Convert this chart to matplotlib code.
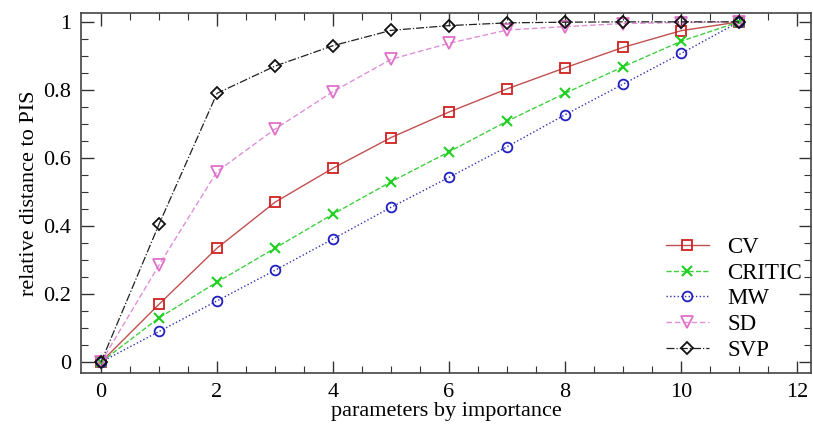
import matplotlib
matplotlib.use("Agg")
import matplotlib.pyplot as plt
from matplotlib.ticker import MultipleLocator

x = list(range(12))
cv =     [0, 0.170, 0.335, 0.470, 0.570, 0.660, 0.735, 0.803, 0.865, 0.925, 0.974, 1.0]
critic = [0, 0.130, 0.235, 0.335, 0.435, 0.530, 0.618, 0.708, 0.790, 0.868, 0.943, 1.0]
mw =     [0, 0.090, 0.180, 0.270, 0.362, 0.455, 0.543, 0.633, 0.727, 0.817, 0.907, 1.0]
sd =     [0, 0.285, 0.560, 0.685, 0.795, 0.890, 0.937, 0.976, 0.986, 0.995, 0.998, 1.0]
svp =    [0, 0.405, 0.790, 0.870, 0.930, 0.975, 0.989, 0.997, 0.999, 1.0, 1.0, 1.0]

plt.rcParams['font.family'] = ['Liberation Serif', 'DejaVu Serif']
fig = plt.figure(figsize=(8.13, 4.32), dpi=100)
ax = fig.add_axes([81/813, 1-373/432, (811-81)/813, (373-13)/432])

ms = 7
ax.plot(x, cv, '-', color='#c05050', lw=1.0, marker='s', ms=ms, mfc='none', mec='#d02020', mew=1.3, label='CV')
ax.plot(x, critic, '--', color='#40d040', lw=1.0, marker='x', ms=ms, mec='#20d020', mew=1.5, label='CRITIC')
ax.plot(x, mw, ':', color='#3030b0', lw=1.0, marker='o', ms=ms, mfc='none', mec='#2020c0', mew=1.3, label='MW')
ax.plot(x, sd, '--', color='#e090d8', lw=1.0, marker='v', ms=ms+1, mfc='none', mec='#e070c8', mew=1.3, label='SD', dashes=(4, 2))
ax.plot(x, svp, '-.', color='#202020', lw=0.9, marker='D', ms=ms-1, mfc='none', mec='#101010', mew=1.3, label='SVP')

ax.set_xlim(-0.345, 12.24)
ax.set_ylim(-0.032, 1.026)
ax.xaxis.set_major_locator(MultipleLocator(2))
ax.xaxis.set_minor_locator(MultipleLocator(0.5))
ax.yaxis.set_major_locator(MultipleLocator(0.2))
ax.yaxis.set_minor_locator(MultipleLocator(0.05))
ax.set_yticks([0, 0.2, 0.4, 0.6, 0.8, 1.0])
ax.set_yticklabels(['0', '0.2', '0.4', '0.6', '0.8', '1'])
ax.tick_params(which='both', direction='in', top=True, right=True, labelsize=16, colors='#333333', labelcolor='black')
ax.tick_params(which='major', length=9, width=1.0, pad=7)
ax.tick_params(which='minor', length=5, width=0.8)
for s in ax.spines.values():
    s.set_color('#444444')
    s.set_linewidth(1.2)

ax.set_xlabel('parameters by importance', fontsize=16, labelpad=0)
ax.set_ylabel('relative distance to PIS', fontsize=16, labelpad=3)

leg = ax.legend(loc='lower right', frameon=False, fontsize=16.5, handlelength=1.9,
                handletextpad=0.8, labelspacing=0.2, borderaxespad=0.3,
                bbox_to_anchor=(1.01, -0.01))

fig.savefig('out.png', dpi=100)
